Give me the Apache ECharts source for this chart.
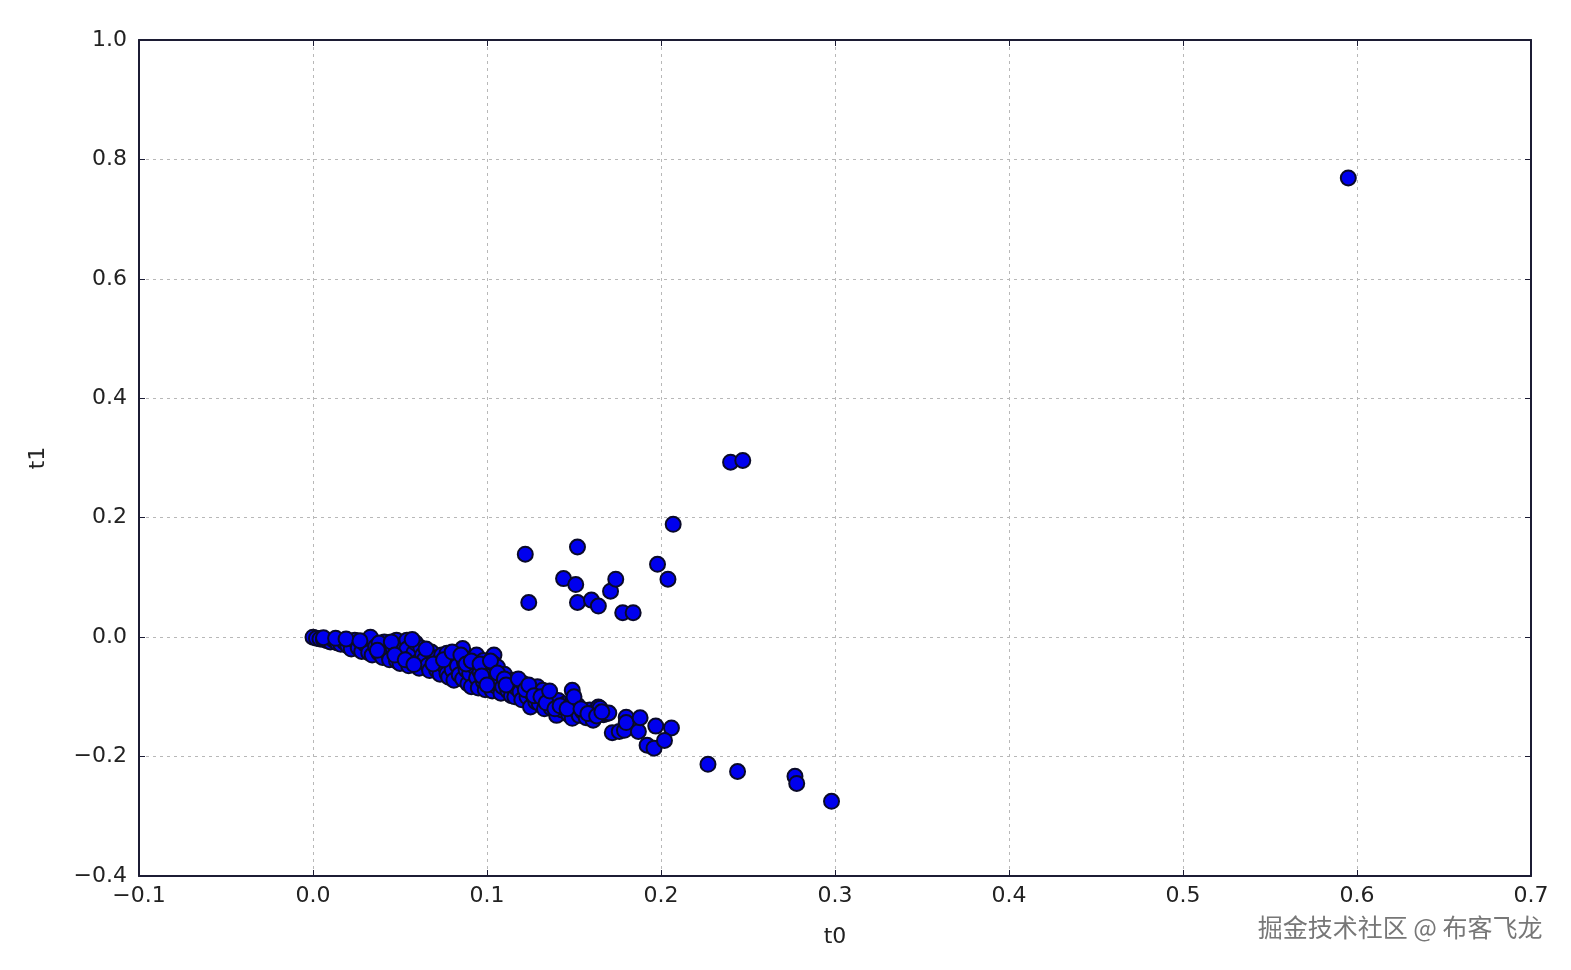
<!DOCTYPE html>
<html>
<head>
<meta charset="utf-8">
<script src="https://cdn.jsdelivr.net/npm/echarts@6/dist/echarts.min.js"></script>
<style>html,body{margin:0;padding:0;background:#fff;}#c{width:1571px;height:970px;}</style>
</head>
<body>
<div id="c"></div>
<script>
var xTicks = [-0.1, 0.0, 0.1, 0.2, 0.3, 0.4, 0.5, 0.6, 0.7];
var yTicks = [-0.4, -0.2, 0.0, 0.2, 0.4, 0.6, 0.8, 1.0];
var xName = 't0';
var yName = 't1';
var watermark = '掘金技术社区 @ 布客飞龙';

var bandPoints = [
[0.000,0.000],[0.002,-0.002],[0.004,-0.003],[0.006,-0.004],[0.008,-0.006],[0.010,-0.008],[0.012,-0.005],[0.014,-0.010],[0.016,-0.012],[0.018,-0.008],[0.020,-0.015],[0.022,-0.020],[0.024,-0.005],[0.026,-0.018],[0.028,-0.024],[0.030,-0.012],[0.032,-0.026],[0.033,0.000],[0.034,-0.030],[0.036,-0.016],[0.038,-0.027],[0.040,-0.034],[0.041,-0.008],[0.043,-0.027],[0.044,-0.038],[0.046,-0.018],[0.048,-0.005],[0.048,-0.040],[0.050,-0.030],[0.050,-0.044],[0.052,-0.012],[0.054,-0.005],[0.054,-0.020],[0.055,-0.048],[0.056,-0.035],[0.058,-0.026],[0.059,-0.010],[0.060,-0.042],[0.061,-0.052],[0.062,-0.018],[0.063,-0.030],[0.064,-0.038],[0.066,-0.047],[0.067,-0.056],[0.068,-0.025],[0.070,-0.035],[0.071,-0.055],[0.072,-0.042],[0.073,-0.062],[0.074,-0.030],[0.076,-0.050],[0.077,-0.027],[0.077,-0.061],[0.078,-0.067],[0.079,-0.040],[0.080,-0.055],[0.081,-0.072],[0.082,-0.035],[0.083,-0.048],[0.084,-0.063],[0.086,-0.019],[0.086,-0.070],[0.087,-0.042],[0.088,-0.055],[0.089,-0.078],[0.090,-0.061],[0.091,-0.083],[0.092,-0.035],[0.093,-0.050],[0.094,-0.030],[0.094,-0.068],[0.095,-0.085],[0.096,-0.058],[0.098,-0.039],[0.098,-0.075],[0.099,-0.088],[0.100,-0.055],[0.101,-0.065],[0.102,-0.072],[0.103,-0.090],[0.104,-0.030],[0.104,-0.045],[0.105,-0.082],[0.106,-0.050],[0.107,-0.072],[0.108,-0.094],[0.109,-0.083],[0.110,-0.062],[0.112,-0.090],[0.113,-0.075],[0.114,-0.098],[0.115,-0.072],[0.116,-0.100],[0.117,-0.085],[0.119,-0.092],[0.120,-0.105],[0.121,-0.078],[0.123,-0.100],[0.125,-0.117],[0.126,-0.095],[0.128,-0.108],[0.129,-0.083],[0.130,-0.111],[0.132,-0.089],[0.133,-0.120],[0.135,-0.100],[0.137,-0.119],[0.138,-0.110],[0.140,-0.131],[0.141,-0.106],[0.143,-0.122],[0.145,-0.112],[0.147,-0.130],[0.149,-0.089],[0.149,-0.109],[0.149,-0.136],[0.151,-0.122],[0.152,-0.114],[0.153,-0.131],[0.155,-0.125],[0.157,-0.135],[0.159,-0.122],[0.161,-0.127],[0.161,-0.139],[0.164,-0.117],[0.165,-0.119],[0.167,-0.130],[0.169,-0.128],[0.170,-0.127],
[0.172,-0.160],[0.176,-0.158],[0.179,-0.156],[0.180,-0.134],[0.180,-0.143],[0.187,-0.158],[0.188,-0.135],[0.197,-0.149],[0.206,-0.152],[0.192,-0.181],[0.196,-0.186],[0.202,-0.173],
[0.006,-0.001],[0.013,-0.002],[0.019,-0.003],[0.027,-0.006],[0.038,-0.010],[0.045,-0.008],[0.057,-0.004],[0.037,-0.022],[0.047,-0.030],[0.053,-0.038],[0.058,-0.046],[0.065,-0.020],[0.069,-0.045],[0.075,-0.038],[0.080,-0.025],[0.085,-0.030],[0.088,-0.045],[0.091,-0.040],[0.096,-0.045],[0.097,-0.065],[0.100,-0.080],[0.102,-0.040],[0.106,-0.060],[0.110,-0.070],[0.111,-0.080],[0.118,-0.070],[0.122,-0.088],[0.124,-0.080],[0.127,-0.098],[0.131,-0.100],[0.134,-0.110],[0.136,-0.090],[0.139,-0.120],[0.142,-0.115],[0.146,-0.120],[0.150,-0.100],[0.154,-0.120],[0.158,-0.128],[0.163,-0.132],[0.166,-0.125]
];

var outlierPoints = [
[0.595,0.769],[0.240,0.293],[0.247,0.296],[0.207,0.189],[0.122,0.139],[0.152,0.151],[0.144,0.098],[0.151,0.088],[0.124,0.058],[0.152,0.058],[0.160,0.062],[0.164,0.052],[0.171,0.077],[0.174,0.097],[0.178,0.041],[0.184,0.041],[0.198,0.122],[0.204,0.097],
[0.227,-0.213],[0.244,-0.225],[0.277,-0.233],[0.278,-0.245],[0.298,-0.275]
];

function fmt(v) {
  var s = v.toFixed(1);
  return s.charAt(0) === '-' ? '\u2212' + s.slice(1) : s;
}

var chart = echarts.init(document.getElementById('c'), null, {renderer: 'canvas'});
var labelStyle = {fontFamily: 'DejaVu Sans', fontSize: 22, color: '#222'};
var gridLine = {show: true, lineStyle: {color: '#b8b8b8', type: [3, 4], width: 1}};
var axisLineStyle = {show: true, onZero: false, lineStyle: {color: '#1c1c34', width: 2}};
var tick = {show: true, inside: true, length: 6, lineStyle: {color: '#1c1c34', width: 1}};

chart.setOption({
  animation: false,
  backgroundColor: '#fff',
  grid: {left: 139, top: 40, right: 40, bottom: 94, containLabel: false},
  xAxis: [{
    type: 'value', position: 'bottom',
    min: xTicks[0], max: xTicks[xTicks.length - 1], interval: 0.1,
    name: xName, nameLocation: 'middle', nameGap: 50,
    nameTextStyle: {fontFamily: 'DejaVu Sans', fontSize: 22, color: '#222'},
    axisLine: axisLineStyle, axisTick: tick,
    axisLabel: Object.assign({margin: 9, formatter: fmt}, labelStyle),
    splitLine: gridLine
  }, {
    type: 'value', position: 'top',
    min: xTicks[0], max: xTicks[xTicks.length - 1], interval: 0.1,
    axisLine: axisLineStyle, axisTick: tick, axisLabel: {show: false}, splitLine: {show: false}
  }],
  yAxis: [{
    type: 'value', position: 'left',
    min: yTicks[0], max: yTicks[yTicks.length - 1], interval: 0.2,
    name: yName, nameLocation: 'middle', nameGap: 90, nameRotate: 90,
    nameTextStyle: {fontFamily: 'DejaVu Sans', fontSize: 22, color: '#222'},
    axisLine: axisLineStyle, axisTick: tick,
    axisLabel: Object.assign({margin: 12, formatter: fmt}, labelStyle),
    splitLine: gridLine
  }, {
    type: 'value', position: 'right',
    min: yTicks[0], max: yTicks[yTicks.length - 1], interval: 0.2,
    axisLine: axisLineStyle, axisTick: tick, axisLabel: {show: false}, splitLine: {show: false}
  }],
  series: [{
    type: 'scatter',
    xAxisIndex: 0, yAxisIndex: 0,
    data: bandPoints.concat(outlierPoints),
    symbolSize: 15,
    itemStyle: {color: '#0000ee', borderColor: '#0a0a28', borderWidth: 2, opacity: 1}
  }],
  graphic: [{
    type: 'text', right: 28, top: 914,
    style: {text: watermark, font: '25px "Noto Sans CJK SC"', fill: '#777',
            stroke: '#fff', lineWidth: 1}
  }]
});
</script>
</body>
</html>
